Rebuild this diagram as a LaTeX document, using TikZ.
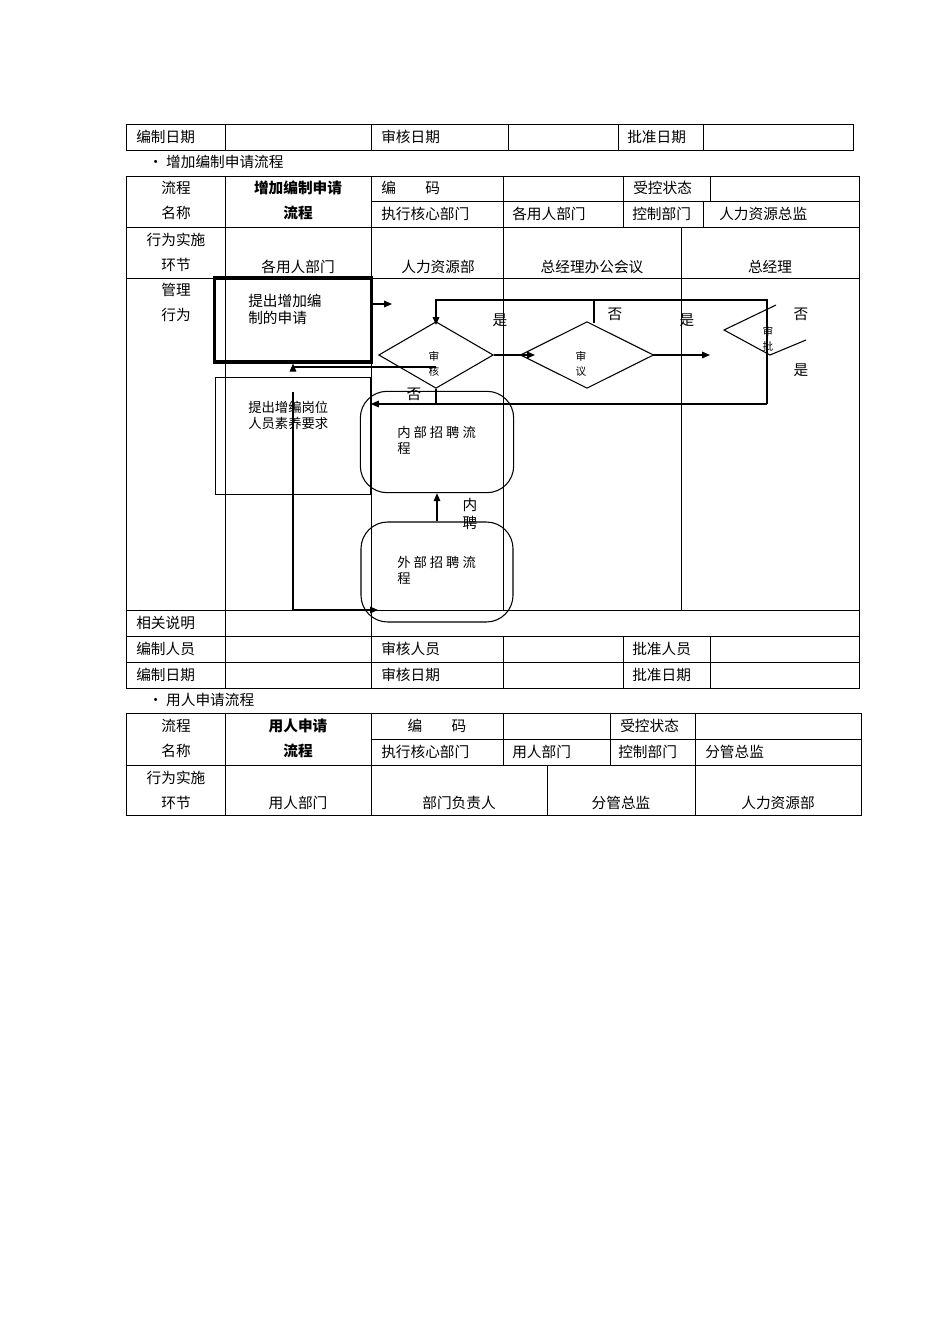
\documentclass[tikz,border=0pt]{standalone}
\usepackage{fontspec}
\newfontfamily\cjk{Noto Sans CJK SC}
\usetikzlibrary{arrows.meta,shapes.geometric}
\begin{document}
\begin{tikzpicture}[x=0.75pt,y=-0.75pt,
  tl/.style={font=\cjk\fontsize{11}{13}\selectfont,inner sep=0pt},
  bd/.style={font=\cjk\bfseries\fontsize{11}{13}\selectfont,inner sep=0pt},
  sm/.style={font=\cjk\fontsize{10}{12}\selectfont,inner sep=0pt,align=left},
  tiny/.style={font=\cjk\fontsize{8}{10}\selectfont,inner sep=0pt},
  ln/.style={line width=0.6pt},
  ar/.style={line width=0.8pt,-{Triangle[length=6pt,width=5pt]}},
  pl/.style={line width=0.8pt}]
\useasboundingbox[fill=white] (0,0) rectangle (950,1344);
% ---------- table 1
\draw[ln] (126,124) rectangle (853,150);
\foreach \x in {225,371,508,618,703}\draw[ln] (\x,124)--(\x,150);
\node[tl,anchor=west] (a1) at (136,137) {编制日期};
\node[tl,anchor=west] (a2) at (381,137) {审核日期};
\node[tl,anchor=west] (a3) at (627,137) {批准日期};
\node[tl,anchor=west] (b1) at (148,162) {• 增加编制申请流程};
% ---------- table 2
\draw[ln] (126,176) rectangle (859,688);
\foreach \y in {227,278,610,636,662}\draw[ln] (126,\y)--(859,\y);
\draw[ln] (371,201)--(859,201);
\draw[ln] (225,176)--(225,688);
\draw[ln] (371,176)--(371,227);
\draw[ln] (503,176)--(503,227);
\draw[ln] (623,176)--(623,227);
\draw[ln] (710,176)--(710,201);
\draw[ln] (703,201)--(703,227);
\draw[ln] (371,227)--(371,610);
\draw[ln] (503,227)--(503,610);
\draw[ln] (681,227)--(681,610);
\foreach \y in {610,636,662}{\draw[ln] (371,\y)--(371,\y+26);\draw[ln] (503,\y+26)--(503,\y+26);}
\draw[ln] (371,636)--(371,688);\draw[ln] (503,636)--(503,688);\draw[ln] (623,636)--(623,688);\draw[ln] (710,636)--(710,688);
\node[tl] (c1) at (176,188) {流程};
\node[tl] (c2) at (176,213) {名称};
\node[bd] (c3) at (298,188) {增加编制申请};
\node[bd] (c4) at (298,213) {流程};
\node[tl,anchor=west] (c5) at (381,188) {编\hspace{2em}码};
\node[tl,anchor=west] (c6) at (633,188) {受控状态};
\node[tl,anchor=west] (c7) at (381,214) {执行核心部门};
\node[tl,anchor=west] (c8) at (512,214) {各用人部门};
\node[tl,anchor=west] (c9) at (632,214) {控制部门};
\node[tl,anchor=west] (c10) at (719,214) {人力资源总监};
\node[tl] (d1) at (176,240) {行为实施};
\node[tl] (d2) at (176,265) {环节};
\node[tl] (d3) at (298,267) {各用人部门};
\node[tl] (d4) at (438,267) {人力资源部};
\node[tl] (d5) at (592,267) {总经理办公会议};
\node[tl] (d6) at (770,267) {总经理};
\node[tl] (e1) at (176,290) {管理};
\node[tl] (e2) at (176,315) {行为};
\node[tl,anchor=west] (f1) at (136,623) {相关说明};
\node[tl,anchor=west] (f2) at (136,649) {编制人员};
\node[tl,anchor=west] (f3) at (381,649) {审核人员};
\node[tl,anchor=west] (f4) at (632,649) {批准人员};
\node[tl,anchor=west] (f5) at (136,675) {编制日期};
\node[tl,anchor=west] (f6) at (381,675) {审核日期};
\node[tl,anchor=west] (f7) at (632,675) {批准日期};
% ---------- flowchart
\node[draw,line width=2.4pt,minimum width=118,minimum height=63,inner sep=0pt] (box1) at (293,320) {};
\node[sm,anchor=north west,font=\cjk\fontsize{11}{12.5}\selectfont] (box1t) at (248,294) {提出增加编\\制的申请};
\node[draw,line width=0.8pt,minimum width=116,minimum height=88,inner sep=0pt] (box2) at (293,436) {};
\node[sm,anchor=north west] (box2t) at (248,401) {提出增编岗位\\人员素养要求};
\node[draw,line width=0.8pt,diamond,minimum width=86,minimum height=50,inner sep=0pt] (dia1) at (436,355) {};
\node[tiny,align=center] (dia1t) at (434,364) {审\\[1pt]核};
\node[draw,line width=0.8pt,diamond,minimum width=100,minimum height=50,inner sep=0pt] (dia2) at (587,355) {};
\node[tiny,align=center] (dia2t) at (581,364) {审\\[1pt]议};
\node[tiny,align=center] (dia3t) at (768,339) {审\\[1pt]批};
\coordinate (p1) at (776,305);\coordinate (p2) at (724,330);\coordinate (p3) at (770,355);\coordinate (p4) at (806,340);
\draw[pl] (p1)--(p2)--(p3)--(p4);
\node[draw,line width=0.8pt,rounded corners=20,minimum width=115,minimum height=76,inner sep=0pt] (in1) at (437,442) {};
\node[sm,anchor=north west] (in1t) at (397,426) {内 部 招 聘 流\\程};
\node[draw,line width=0.8pt,rounded corners=20,minimum width=114,minimum height=75,inner sep=0pt] (ex1) at (437,572) {};
\node[sm,anchor=north west] (ex1t) at (397,556) {外 部 招 聘 流\\程};
\coordinate (a0) at (392,304);
\draw[ar] (box1.east|-a0) -- (a0);
\coordinate (t1) at (436,300);\coordinate (t2) at (767,300);\coordinate (t3) at (767,404);
\draw[ar] (t3)--(t2)--(t1)--(436,325);
\draw[pl] (594,300)--(594,323);
\draw[ar] (t3)--(box2.east|-t3);
\draw[pl] (dia1.south)--(436,404);
\draw[ar] (436,367)--(293,367)--(box1.south);
\draw[ar] (494,355)--(535,355);
\draw[ar] (652,355)--(710,355);
\draw[ar] (293,392)--(293,610)--(378,610);
\draw[ar] (ex1.north)--(in1.south);
\node[tl] (l1) at (500,320) {是};
\node[tl] (l2) at (615,314) {否};
\node[tl] (l3) at (687,320) {是};
\node[tl] (l4) at (801,314) {否};
\node[tl] (l5) at (801,370) {是};
\node[tl] (l6) at (414,394) {否};
\node[tl,align=center] (l7) at (470,514) {内\\聘};
% ---------- table 3
\node[tl,anchor=west] (b2) at (148,700) {• 用人申请流程};
\draw[ln] (126,713) rectangle (861,815);
\draw[ln] (371,739)--(861,739);
\draw[ln] (126,765)--(861,765);
\draw[ln] (225,713)--(225,815);
\draw[ln] (371,713)--(371,815);
\draw[ln] (503,713)--(503,765);
\draw[ln] (610,713)--(610,765);
\draw[ln] (695,713)--(695,815);
\draw[ln] (547,765)--(547,815);
\node[tl] (g1) at (176,726) {流程};
\node[tl] (g2) at (176,751) {名称};
\node[bd] (g3) at (298,726) {用人申请};
\node[bd] (g4) at (298,751) {流程};
\node[tl] (g5) at (437,726) {编\hspace{2em}码};
\node[tl,anchor=west] (g6) at (620,726) {受控状态};
\node[tl,anchor=west] (g7) at (381,752) {执行核心部门};
\node[tl,anchor=west] (g8) at (512,752) {用人部门};
\node[tl,anchor=west] (g9) at (618,752) {控制部门};
\node[tl,anchor=west] (g10) at (705,752) {分管总监};
\node[tl] (h1) at (176,778) {行为实施};
\node[tl] (h2) at (176,803) {环节};
\node[tl] (h3) at (298,803) {用人部门};
\node[tl] (h4) at (459,803) {部门负责人};
\node[tl] (h5) at (621,803) {分管总监};
\node[tl] (h6) at (778,803) {人力资源部};
\end{tikzpicture}
\end{document}
